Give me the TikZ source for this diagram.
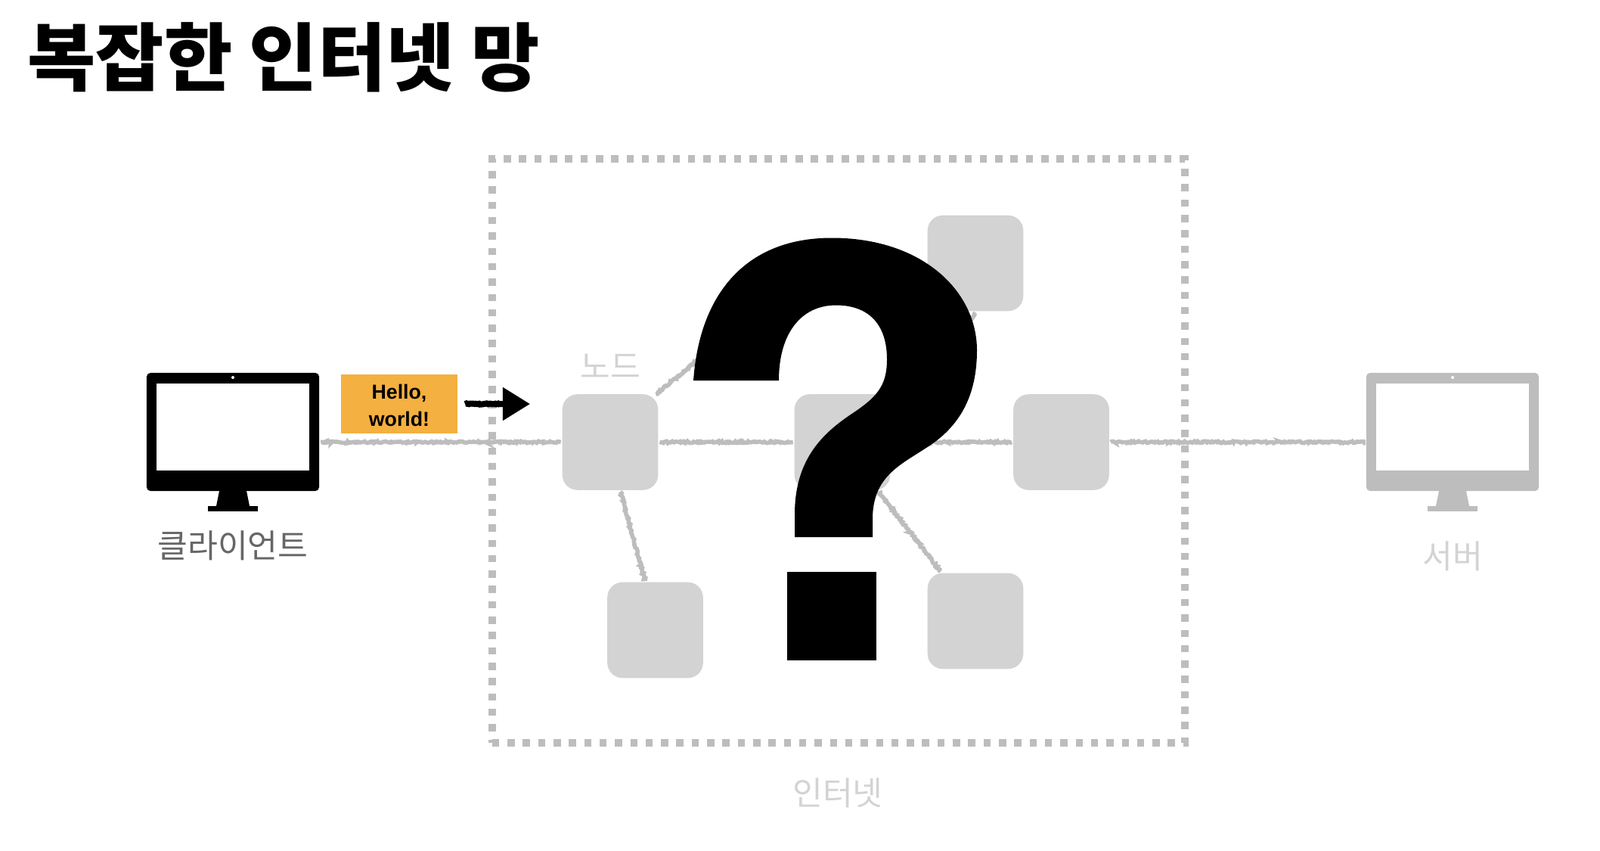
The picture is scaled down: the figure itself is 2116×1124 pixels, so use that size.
\documentclass[tikz,border=0pt]{standalone}
\usepackage{fontspec}
\setmainfont{Liberation Sans}
\newfontfamily\kr{Noto Sans CJK KR}
\usetikzlibrary{positioning,arrows.meta,decorations.pathmorphing}
\definecolor{nodegray}{HTML}{D3D3D3}
\definecolor{linegray}{HTML}{BDBDBD}
\definecolor{msgorange}{HTML}{F4B041}
\tikzset{
  netnode/.style={fill=nodegray,rounded corners=0.2cm,minimum size=1.265cm,inner sep=0pt,outer sep=0.02cm},
  roughline/.style={draw=linegray,line width=0.055cm,decorate,decoration={random steps,segment length=0.018cm,amplitude=0.012cm}},
  monitorbody/.style={rounded corners=0.05cm,minimum width=2.28cm,minimum height=1.56cm,inner sep=0pt,outer sep=0.02cm},
  monitorscreen/.style={fill=white,minimum width=2.02cm,minimum height=1.15cm,inner sep=0pt},
  softlabel/.style={font=\kr\fontsize{12.3}{14}\selectfont,text=nodegray},
}
\newcommand{\drawstand}[2]{%
  \fill[#2] (#1-18,649) -- (#1+18,649) -- (#1+22,669) -- (#1-22,669) -- cycle;
  \fill[#2] (#1-33,669) rectangle (#1+33,676);
  \fill[white] (#1,499) circle (2);
}
\begin{document}
\begin{tikzpicture}[x=0.01cm,y=-0.01cm]
\useasboundingbox (0,0) rectangle (2116,1124);
% title
\node[anchor=west,inner sep=0pt,font=\kr\bfseries\fontsize{27.9}{30}\selectfont] (title) at (36,76) {복잡한 인터넷 망};
% internet box
\node[draw=linegray,line width=0.1cm,dash pattern=on 0.095cm off 0.108cm,minimum width=9.16cm,minimum height=7.71cm,inner sep=0pt] (internet) at (1109,596) {};
\node[softlabel] (internetlabel) at (1108,1048) {인터넷};
% client
\node[monitorbody,fill=black] (client) at (308,571) {};
\node[monitorscreen] (clientscreen) at (308,564.5) {};
\drawstand{308}{black}
\node[font=\kr\fontsize{12.3}{14}\selectfont,text=black!60] (clientlabel) at (308,721) {클라이언트};
% server
\node[monitorbody,fill=linegray] (server) at (1921,571) {};
\node[monitorscreen] (serverscreen) at (1921,564.5) {};
\drawstand{1921}{linegray}
\node[softlabel] (serverlabel) at (1921,735) {서버};
% network nodes
\node[netnode] (left) at (807,584.5) {};
\node[netnode] (mid) at (1114,584.5) {};
\node[netnode] (right) at (1403.5,584.5) {};
\node[netnode] (top) at (1290,348) {};
\node[netnode] (lowleft) at (866.5,833) {};
\node[netnode] (lowright) at (1290,821) {};
\node[softlabel] (nodelabel) at (807,484) {노드};
% hidden ends, under the question mark
\coordinate (hidelow) at (1270,440);
\coordinate (hideup) at (960,445);
% links
\draw[roughline] (client.east |- left.west) -- (left.west);
\draw[roughline] (left) -- (mid);
\draw[roughline] (mid) -- (right);
\draw[roughline] (right) -- (server.west |- right.east);
\draw[roughline] ([xshift=-0.05cm,yshift=-0.02cm]left.north east) -- (hideup);
\draw[roughline] ([xshift=0.135cm]left.south) -- ([xshift=-0.135cm]lowleft.north);
\draw[roughline] ([xshift=0.48cm]mid.south) -- ([xshift=-0.46cm]lowright.north);
\draw[roughline] (top.south) -- (hidelow);
% message
\node[fill=msgorange,minimum width=1.535cm,minimum height=0.785cm,inner sep=0pt,align=center,font=\bfseries\fontsize{7.6}{10.1}\selectfont] (msg) at (528,534) {\rule{0pt}{6.6pt}Hello,\\world!};
\coordinate (arrowstart) at (615,534);
\coordinate (arrowend) at (701,534);
\draw[roughline,draw=black,line width=0.08cm,decoration={amplitude=0.007cm,post length=0.4cm},-{Triangle[length=0.36cm,width=0.42cm]}] (arrowstart) -- (arrowend);
% question mark
\fill[black] (917,503) .. controls (925,390) and (985,314.5) .. (1100,314.5)
  .. controls (1220,314.5) and (1292,385) .. (1292,463)
  .. controls (1292,525) and (1268,565) .. (1225,592)
  .. controls (1190,615) and (1155,630) .. (1154,684)
  -- (1154,710) -- (1051,710) -- (1051,680)
  .. controls (1051,610) and (1085,575) .. (1125,548)
  .. controls (1160,525) and (1173,510) .. (1173,475)
  .. controls (1173,430) and (1150,403.5) .. (1105.6,403.5)
  .. controls (1060,403.5) and (1030,440) .. (1030,503) -- cycle;
\fill[black] (1040.5,756) rectangle (1159,873);
\end{tikzpicture}
\end{document}
